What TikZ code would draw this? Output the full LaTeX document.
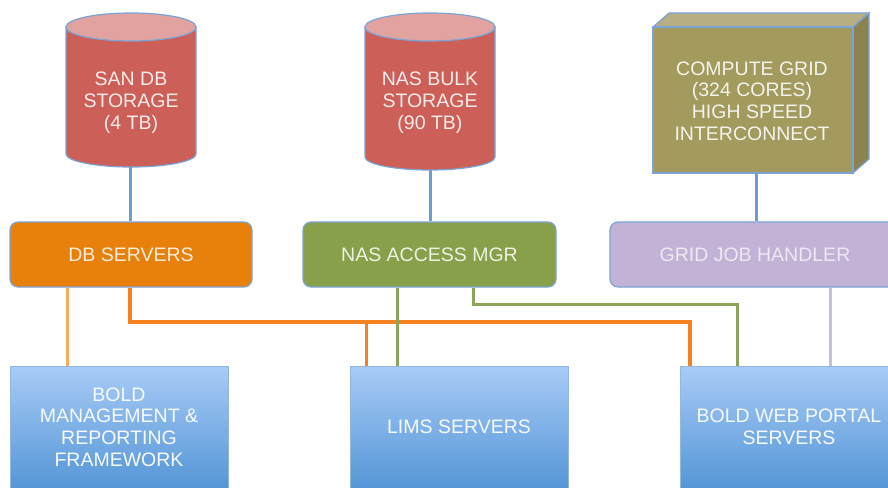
\documentclass[tikz,border=0pt]{standalone}
\usepackage{fontspec}
\setmainfont{Liberation Sans}
\definecolor{cylbody}{HTML}{CC5F57}
\definecolor{cyltop}{HTML}{E2A3A0}
\definecolor{cubefront}{HTML}{A39A5E}
\definecolor{cubetop}{HTML}{B7AE83}
\definecolor{cubeside}{HTML}{8C8450}
\definecolor{edgeblue}{HTML}{7BA4D6}
\definecolor{linkblue}{HTML}{6A9FD4}
\definecolor{dbfill}{HTML}{E8800C}
\definecolor{nasfill}{HTML}{89A04B}
\definecolor{gridfill}{HTML}{C2B3D6}
\definecolor{boxtop}{HTML}{A8CBF7}
\definecolor{boxbot}{HTML}{5596D6}
\definecolor{lorange}{HTML}{F8AA5E}
\definecolor{dorange}{HTML}{F58220}
\definecolor{glink}{HTML}{8DA55A}
\definecolor{llink}{HTML}{CBBEDC}
\tikzset{
  lbl/.style={align=center, font=\fontsize{19.5}{21.8}\selectfont, inner sep=0pt},
  midbox/.style={draw=edgeblue, line width=1.2pt, rounded corners=8pt, minimum height=65pt, lbl},
  lowbox/.style={draw=edgeblue!80, line width=0.8pt, top color=boxtop, bottom color=boxbot, minimum width=218pt, minimum height=122pt, lbl, text=white!90!boxtop},
  shapeedge/.style={draw=edgeblue, line width=1.2pt},
  link/.style={line width=3pt},
}
\begin{document}
\begin{tikzpicture}[x=1pt,y=-1pt]
\clip (0,0) rectangle (888,487);
\fill[white] (0,0) rectangle (888,487);

% cylinder 1
\path[shapeedge, fill=cylbody] (66,27) -- (66,154) arc[start angle=180, end angle=360, x radius=65pt, y radius=13pt] -- (196,27) -- cycle;
\path[shapeedge, fill=cyltop] (131,27) ellipse [x radius=65pt, y radius=14pt];
\node[lbl, text=white!88!cylbody] (san) at (131,103) {SAN DB\\STORAGE\\(4 TB)};
\coordinate (sanbot) at (130,167);

% cylinder 2
\path[shapeedge, fill=cylbody] (365,27) -- (365,157) arc[start angle=180, end angle=360, x radius=65pt, y radius=13pt] -- (495,27) -- cycle;
\path[shapeedge, fill=cyltop] (430,27) ellipse [x radius=65pt, y radius=14pt];
\node[lbl, text=white!88!cylbody] (nas) at (430,103) {NAS BULK\\STORAGE\\(90 TB)};
\coordinate (nasbot) at (430,170);

% cube
\path[shapeedge, fill=cubetop] (653,27) -- (669,13) -- (869,13) -- (853,27) -- cycle;
\path[shapeedge, fill=cubeside] (853,27) -- (869,13) -- (869,159) -- (853,173) -- cycle;
\path[shapeedge, fill=cubefront] (653,27) rectangle (853,173);
\node[lbl, text=white!88!cubefront] (grid) at (752,101) {COMPUTE GRID\\(324 CORES)\\HIGH SPEED\\INTERCONNECT};
\coordinate (gridbot) at (756,173);

% middle row
\node[midbox, fill=dbfill, minimum width=242pt, text=white!85!dbfill] (dbs) at (131,254.5) {DB SERVERS};
\node[midbox, fill=nasfill, minimum width=253pt, text=white!85!nasfill] (nasmgr) at (429.5,254.5) {NAS ACCESS MGR};
\node[midbox, fill=gridfill, minimum width=290pt, text=white!70!gridfill] (gjh) at (755,254.5) {GRID JOB HANDLER};

% bottom row
\node[lowbox] (mgmt) at (119,427) {BOLD\\MANAGEMENT \&\\REPORTING\\FRAMEWORK};
\node[lowbox] (lims) at (459,427) {LIMS SERVERS};
\node[lowbox] (web) at (789,427) {BOLD WEB PORTAL\\SERVERS};

% x positions of connectors
\coordinate (xa) at (67,0);
\coordinate (xb) at (130,0);
\coordinate (xc) at (366,0);
\coordinate (xd) at (397,0);
\coordinate (xe) at (473,0);
\coordinate (xf) at (690,0);
\coordinate (xg) at (737,0);
\coordinate (xh) at (830,0);

% storage links
\draw[link, linkblue] (sanbot) -- (dbs.north -| sanbot);
\draw[link, linkblue] (nasbot) -- (nasmgr.north -| nasbot);
\draw[link, linkblue] (gridbot) -- (gjh.north -| gridbot);

% DB links
\draw[link, lorange] (dbs.south -| xa) -- (mgmt.north -| xa);
\draw[link, dorange, line width=3.5pt] (dbs.south -| xb) |- (xf |- 0,322) -- (web.north -| xf);
\draw[link, dorange] (xc |- 0,322) -- (lims.north -| xc);

% NAS links
\draw[link, glink] (nasmgr.south -| xd) -- (lims.north -| xd);
\draw[link, glink] (nasmgr.south -| xe) |- (xg |- 0,304) -- (web.north -| xg);

% grid link
\draw[link, llink] (gjh.south -| xh) -- (web.north -| xh);
\end{tikzpicture}
\end{document}
